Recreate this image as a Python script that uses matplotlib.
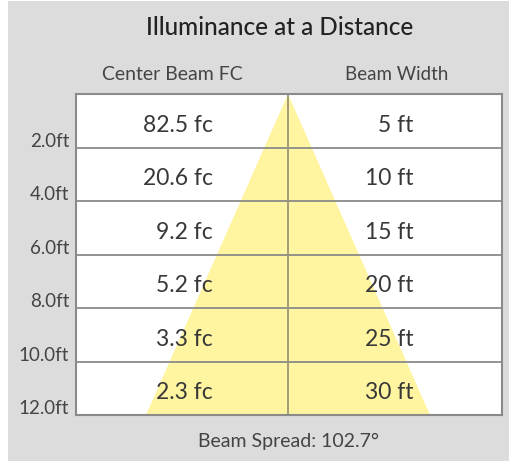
import matplotlib
matplotlib.use("Agg")
import matplotlib.pyplot as plt
from matplotlib.patches import Rectangle, Polygon

plt.rcParams["font.family"] = ["Lato", "DejaVu Sans"]

# data
distances = [2, 4, 6, 8, 10, 12]
dist_labels = ["2.0ft", "4.0ft", "6.0ft", "8.0ft", "10.0ft", "12.0ft"]
center_fc = [82.5, 20.6, 9.2, 5.2, 3.3, 2.3]
beam_width = [5, 10, 15, 20, 25, 30]
beam_spread = 102.7

W, H = 509, 461
fig = plt.figure(figsize=(W / 100, H / 100), dpi=100)
fig.patch.set_facecolor("white")
fig.patches.append(Rectangle((8 / W, 0), 1 - 8 / W, 1 - 1 / H, transform=fig.transFigure,
                             facecolor="#dcdcdc", edgecolor="none", zorder=-10))

# table area
left, right, top, bottom = 76, 502, 94, 415
ax = fig.add_axes([left / W, 1 - bottom / H, (right - left) / W, (bottom - top) / H])
ax.set_facecolor("white")
px_per_ft = 142 / 15.0
ax.set_xlim(-(288 - left) / px_per_ft, (right - 288) / px_per_ft)
ax.set_ylim(distances[-1], 0)
ax.set_xticks([])
ax.set_yticks([])
for s in ax.spines.values():
    s.set_color("#8a8a8a")
    s.set_linewidth(1.5)

# beam cone
half = beam_width[-1] / 2
ax.add_patch(Polygon([(0, 0), (-half, distances[-1]), (half, distances[-1])],
                     closed=True, facecolor="#fff4a0", edgecolor="none", zorder=1))

for d in distances[:-1]:
    ax.axhline(d, color="#8a8a8a", lw=1.3, zorder=2)
ax.axvline(0, color="#9a9478", lw=1.3, zorder=2)

xt = ax.get_yaxis_transform()
for d, lab, fc, bw in zip(distances, dist_labels, center_fc, beam_width):
    ax.text(0.322, d - 0.58, f"{fc} fc", transform=xt, ha="right", va="baseline",
            fontsize=16.5, color="#383838", zorder=3)
    ax.text(0.793, d - 0.58, f"{bw} ft", transform=xt, ha="right", va="baseline",
            fontsize=16.5, color="#383838", zorder=3)
    ax.text(-0.016, d - 0.03, lab, transform=xt, ha="right", va="baseline",
            fontsize=13.5, color="#444444", clip_on=False)

fig.text(280 / W, 1 - 35 / H, "Illuminance at a Distance", ha="center", va="baseline",
         fontsize=17.5, color="#222222", fontweight="medium")
fig.text(172 / W, 1 - 80 / H, "Center Beam FC", ha="center", va="baseline",
         fontsize=14, color="#444444")
fig.text(397 / W, 1 - 80 / H, "Beam Width", ha="center", va="baseline",
         fontsize=13.5, color="#444444")
fig.text(289 / W, 1 - 447 / H, f"Beam Spread: {beam_spread}°", ha="center", va="baseline",
         fontsize=14, color="#444444")

fig.savefig("out.png", dpi=100)
